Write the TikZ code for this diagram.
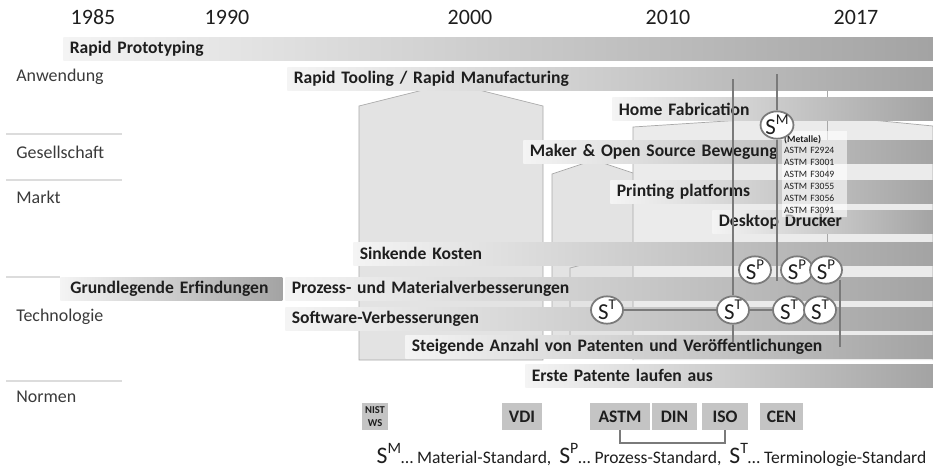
\documentclass[tikz,border=0pt]{standalone}
\usepackage{fontspec}
\setmainfont{Carlito}
\usetikzlibrary{shapes.geometric}

\definecolor{txtcol}{HTML}{1E1E1E}
\definecolor{catcol}{HTML}{3A3A3A}
\definecolor{barL}{HTML}{F4F4F4}
\definecolor{barR}{HTML}{A3A3A3}
\definecolor{housecol}{HTML}{E3E3E3}
\definecolor{houseedge}{HTML}{A8A8A8}
\definecolor{conncol}{HTML}{7A7A7A}
\definecolor{normcol}{HTML}{C4C4C4}
\definecolor{sepcol}{HTML}{DCDCDC}

\newcommand\stdS[1]{S\raisebox{.42em}{\fontsize{8.5}{8.5}\selectfont #1}}
\newcommand\legS[1]{{\fontsize{13.5}{13.5}\selectfont S\raisebox{.45em}{\fontsize{9}{9}\selectfont #1}}}

\tikzset{
  year/.style={font=\fontsize{12.5}{14}\selectfont, text=txtcol},
  cat/.style={anchor=west, inner sep=0pt, font=\fontsize{10.2}{12}\selectfont, text=catcol},
  bar/.style={anchor=west, left color=barL, right color=barR, inner xsep=0.13cm,
    inner ysep=0pt, minimum height=0.46cm, text width=#1, align=left,
    font=\bfseries\fontsize{10}{12}\selectfont, text=txtcol},
  house/.style={fill=housecol, draw=houseedge, line width=0.4pt},
  sepline/.style={draw=sepcol, line width=1.2pt},
  std/.style={ellipse, draw=conncol, line width=1pt, fill=white, minimum width=0.64cm,
    minimum height=0.46cm, inner sep=0pt, font=\fontsize{13}{13}\selectfont, text=txtcol},
  connline/.style={draw=conncol, line width=1.2pt},
  norm/.style={fill=normcol, minimum height=0.54cm, inner sep=0pt,
    font=\bfseries\fontsize{10}{12}\selectfont, text=txtcol},
  metbox/.style={anchor=north west, fill=white, fill opacity=.6, text opacity=1,
    text=txtcol, font=\fontsize{5.5}{6.8}\selectfont, align=left, text width=1.22cm,
    inner xsep=1pt, inner ysep=2pt},
}

\begin{document}
\begin{tikzpicture}[x=0.02cm, y=-0.02cm]
\useasboundingbox (0,0) rectangle (933,468);

% houses behind the bars
\draw[house] (359,360) -- (359,106) -- (451,83) -- (543,106) -- (543,360) -- cycle;
\draw[house] (552,355) -- (552,174) -- (594,160) -- (636,174) -- (636,355) -- cycle;
\draw[house] (570,355) -- (570,268) -- (612,257) -- (655,267) -- (655,355) -- cycle;
\draw[house, fill=housecol!70!white] (633,360) -- (633,127) -- (820,115) -- (933,126) -- (933,360);
\draw[draw=houseedge] (827,90) -- (827,242);

% years
\node[year] (y1985) at (93,17) {1985};
\node[year] (y1990) at (227,17) {1990};
\node[year] (y2000) at (470,17) {2000};
\node[year] (y2010) at (668,17) {2010};
\node[year] (y2017) at (856,17) {2017};

% categories
\node[cat] (anw) at (16,77) {Anwendung};
\node[cat] (ges) at (16,152) {Gesellschaft};
\node[cat] (mar) at (16,197) {Markt};
\node[cat] (tec) at (16,317) {Technologie};
\node[cat] (nor) at (16,397) {Normen};
\draw[sepline] (6,134) -- (122,134);
\draw[sepline] (6,180) -- (122,180);
\draw[sepline] (6,277) -- (60,277);
\draw[sepline] (6,381) -- (122,381);

% bars
\node[bar=17.14cm] (rp) at (63,48.5) {Rapid Prototyping};
\node[bar=12.66cm] (rt) at (287,79) {Rapid Tooling / Rapid Manufacturing};
\node[bar=6.16cm] (hf) at (612,109) {Home Fabrication};
\node[bar=7.94cm] (mk) at (523,151.5) {Maker \& Open Source Bewegung};
\node[bar=6.20cm] (pp) at (610,191.5) {Printing platforms};
\node[bar=4.16cm] (dd) at (712,222) {Desktop Drucker};
\node[bar=11.34cm] (sk) at (353,253.5) {Sinkende Kosten};
\node[bar=4.18cm] (ge) at (60,288.5) {\hspace{2pt}Grundlegende Erfindungen};
\node[bar=12.70cm] (pm) at (285,288.5) {Prozess- und Materialverbesserungen};
\node[bar=12.70cm] (sw) at (285,318.5) {Software-Verbesserungen};
\node[bar=10.30cm] (sa) at (405,346.5) {Steigende Anzahl von Patenten und Veröffentlichungen};
\node[bar=7.90cm] (ep) at (525,375.5) {Erste Patente laufen aus};

% standards
\node[metbox] (met) at (782,131) {\textbf{(Metalle)}\\ASTM F2924\\ASTM F3001\\ASTM F3049\\ASTM F3055\\ASTM F3056\\ASTM F3091};
\node[std] (sm) at (777,125) {\stdS{M}};
\node[std] (sp1) at (755,270) {\stdS{P}};
\node[std] (sp2) at (797,270) {\stdS{P}};
\node[std] (sp3) at (826,270) {\stdS{P}};
\node[std] (st1) at (607,310) {\stdS{T}};
\node[std] (st2) at (733,310) {\stdS{T}};
\node[std] (st3) at (789,310) {\stdS{T}};
\node[std] (st4) at (820,310) {\stdS{T}};

\coordinate (a1) at (733,79);
\coordinate (a2) at (733,342);
\coordinate (b1) at (777,74);
\coordinate (b2) at (777,281);
\coordinate (c1) at (840,347);
\draw[connline] (a1) -- (st2) -- (a2);
\draw[connline] (b1) -- (sm) -- (b2);
\draw[connline] (c1) -- (c1 |- sp3.south east);
\draw[connline] (st1) -- (st2) -- (st3);

% norms
\node[norm, minimum width=0.52cm, align=center, font=\bfseries\fontsize{6}{7}\selectfont] (nist) at (375,416.5) {NIST\\WS};
\node[norm, minimum width=0.80cm] (vdi) at (522,416.5) {VDI};
\node[norm, minimum width=1.20cm] (astm) at (620,416.5) {ASTM};
\node[norm, minimum width=0.90cm] (din) at (674.5,416.5) {DIN};
\node[norm, minimum width=0.92cm] (iso) at (725,416.5) {ISO};
\node[norm, minimum width=0.86cm] (cen) at (781.5,416.5) {CEN};
\draw[connline, line width=1pt] (astm.south) -- ++(0,13) -| (iso.south);

\node[text=txtcol, inner sep=0pt, font=\fontsize{10}{12}\selectfont] (leg) at (651.5,455)
  {\legS{M}\dots{} Material-Standard,\ \ \legS{P}\dots{} Prozess-Standard,\ \ \legS{T}\dots{} Terminologie-Standard};
\end{tikzpicture}
\end{document}
